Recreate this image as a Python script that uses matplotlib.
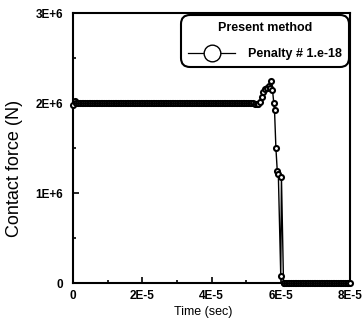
import matplotlib
matplotlib.use("Agg")
import matplotlib.pyplot as plt
from matplotlib.lines import Line2D

# time in microseconds
time_us = [
    0, 0.5, 1, 1.5, 2, 2.5, 3, 3.5, 4, 4.5,
    5, 5.5, 6, 6.5, 7, 7.5, 8, 8.5, 9, 9.5,
    10, 10.5, 11, 11.5, 12, 12.5, 13, 13.5, 14, 14.5,
    15, 15.5, 16, 16.5, 17, 17.5, 18, 18.5, 19, 19.5,
    20, 20.5, 21, 21.5, 22, 22.5, 23, 23.5, 24, 24.5,
    25, 25.5, 26, 26.5, 27, 27.5, 28, 28.5, 29, 29.5,
    30, 30.5, 31, 31.5, 32, 32.5, 33, 33.5, 34, 34.5,
    35, 35.5, 36, 36.5, 37, 37.5, 38, 38.5, 39, 39.5,
    40, 40.5, 41, 41.5, 42, 42.5, 43, 43.5, 44, 44.5,
    45, 45.5, 46, 46.5, 47, 47.5, 48, 48.5, 49, 49.5,
    50, 50.5, 51, 51.5, 52, 52.5, 53, 53.5, 54, 54.5,
    55, 55.5, 56, 56.5, 57, 57.2, 57.6, 58.0, 58.2, 58.6,
    59.0, 59.3, 60.0, 60.2, 60.8, 61, 61.5, 62, 62.5, 63,
    63.5, 64, 64.5, 65, 65.5, 66, 66.5, 67, 67.5, 68,
    68.5, 69, 69.5, 70, 70.5, 71, 71.5, 72, 72.5, 73,
    73.5, 74, 74.5, 75, 75.5, 76, 76.5, 77, 77.5, 78,
    78.5, 79, 79.5, 80,
]
# contact force in MN (1E+6 N)
force_MN = [
    1.98, 2.02, 2.0, 2.0, 2.0, 2.0, 2.0, 2.0, 2.0, 2.0,
    2.0, 2.0, 2.0, 2.0, 2.0, 2.0, 2.0, 2.0, 2.0, 2.0,
    2.0, 2.0, 2.0, 2.0, 2.0, 2.0, 2.0, 2.0, 2.0, 2.0,
    2.0, 2.0, 2.0, 2.0, 2.0, 2.0, 2.0, 2.0, 2.0, 2.0,
    2.0, 2.0, 2.0, 2.0, 2.0, 2.0, 2.0, 2.0, 2.0, 2.0,
    2.0, 2.0, 2.0, 2.0, 2.0, 2.0, 2.0, 2.0, 2.0, 2.0,
    2.0, 2.0, 2.0, 2.0, 2.0, 2.0, 2.0, 2.0, 2.0, 2.0,
    2.0, 2.0, 2.0, 2.0, 2.0, 2.0, 2.0, 2.0, 2.0, 2.0,
    2.0, 2.0, 2.0, 2.0, 2.0, 2.0, 2.0, 2.0, 2.0, 2.0,
    2.0, 2.0, 2.0, 2.0, 2.0, 2.0, 2.0, 2.0, 2.0, 2.0,
    2.0, 2.0, 2.0, 2.0, 2.0, 1.99, 1.99, 1.99, 2.01, 2.07,
    2.12, 2.16, 2.17, 2.19, 2.17, 2.24, 2.15, 2.0, 1.92, 1.5,
    1.24, 1.21, 0.08, 1.18, 0.0, 0.0, 0.0, 0.0, 0.0, 0.0,
    0.0, 0.0, 0.0, 0.0, 0.0, 0.0, 0.0, 0.0, 0.0, 0.0,
    0.0, 0.0, 0.0, 0.0, 0.0, 0.0, 0.0, 0.0, 0.0, 0.0,
    0.0, 0.0, 0.0, 0.0, 0.0, 0.0, 0.0, 0.0, 0.0, 0.0,
    0.0, 0.0, 0.0, 0.0,
]

x_ticks = [0, 2e-5, 4e-5, 6e-5, 8e-5]
x_labels = ["0", "2E-5", "4E-5", "6E-5", "8E-5"]
x_minor = [1e-5, 3e-5, 5e-5, 7e-5]
y_ticks = [0, 1e6, 2e6, 3e6]
y_labels = ["0", "1E+6", "2E+6", "3E+6"]
y_minor = [0.5e6, 1.5e6, 2.5e6]

plt.rcParams['font.family'] = ['Liberation Sans', 'DejaVu Sans']

W, H = 362, 326
fig = plt.figure(figsize=(W / 100, H / 100), dpi=100)
ax = fig.add_axes([73 / W, 1 - 283 / H, (350 - 73) / W, (283 - 13) / H])

t = [v * 1e-6 for v in time_us]
f = [v * 1e6 for v in force_MN]
ax.plot(t, f, color='black', lw=1.0, marker='o', ms=3.6, mfc='white',
        mec='black', mew=1.5, clip_on=False, zorder=3)

ax.set_xlim(0, 8e-5)
ax.set_ylim(0, 3e6)
ax.set_xticks(x_ticks)
ax.set_xticklabels(x_labels)
ax.set_yticks(y_ticks)
ax.set_yticklabels(y_labels)
ax.set_xticks(x_minor, minor=True)
ax.set_yticks(y_minor, minor=True)
ax.tick_params(which='both', direction='in', top=False, right=False,
               labelsize=8.5, width=1.2)
ax.tick_params(axis='x', which='major', pad=5)
ax.tick_params(axis='y', which='major', pad=7)
ax.tick_params(which='major', length=4)
ax.tick_params(which='minor', length=2.5)
for lab in ax.get_xticklabels() + ax.get_yticklabels():
    lab.set_fontweight('bold')
for s in ax.spines.values():
    s.set_linewidth(1.5)

ax.set_xlabel("Time (sec)", fontsize=9)
ax.xaxis.set_label_coords((203 - 73) / 277, (283 - 306) / 270)
ax.set_ylabel("Contact force (N)", fontsize=13)
ax.yaxis.set_label_coords((23 - 73) / 277, (283 - 168) / 270)

handle = Line2D([], [], color='black', lw=0.9, marker='o', ms=12, mfc='white',
                mec='black', mew=1.0)
leg = ax.legend([handle], ["Penalty # 1.e-18"], title="Present method",
                loc='upper right', bbox_to_anchor=(349 / W, 1 - 15 / H),
                bbox_transform=fig.transFigure, borderaxespad=0,
                prop={'size': 9, 'weight': 'bold'},
                title_fontproperties={'size': 9, 'weight': 'bold'},
                frameon=True, fancybox=True,
                handlelength=3.75, handletextpad=1.05, borderpad=0.55,
                labelspacing=1.15, edgecolor='black', framealpha=1)
leg.get_frame().set_linewidth(1.5)
leg.get_frame().set_boxstyle('round', pad=0, rounding_size=0.7)
leg.set_zorder(5)

fig.savefig("out.png", dpi=100)
